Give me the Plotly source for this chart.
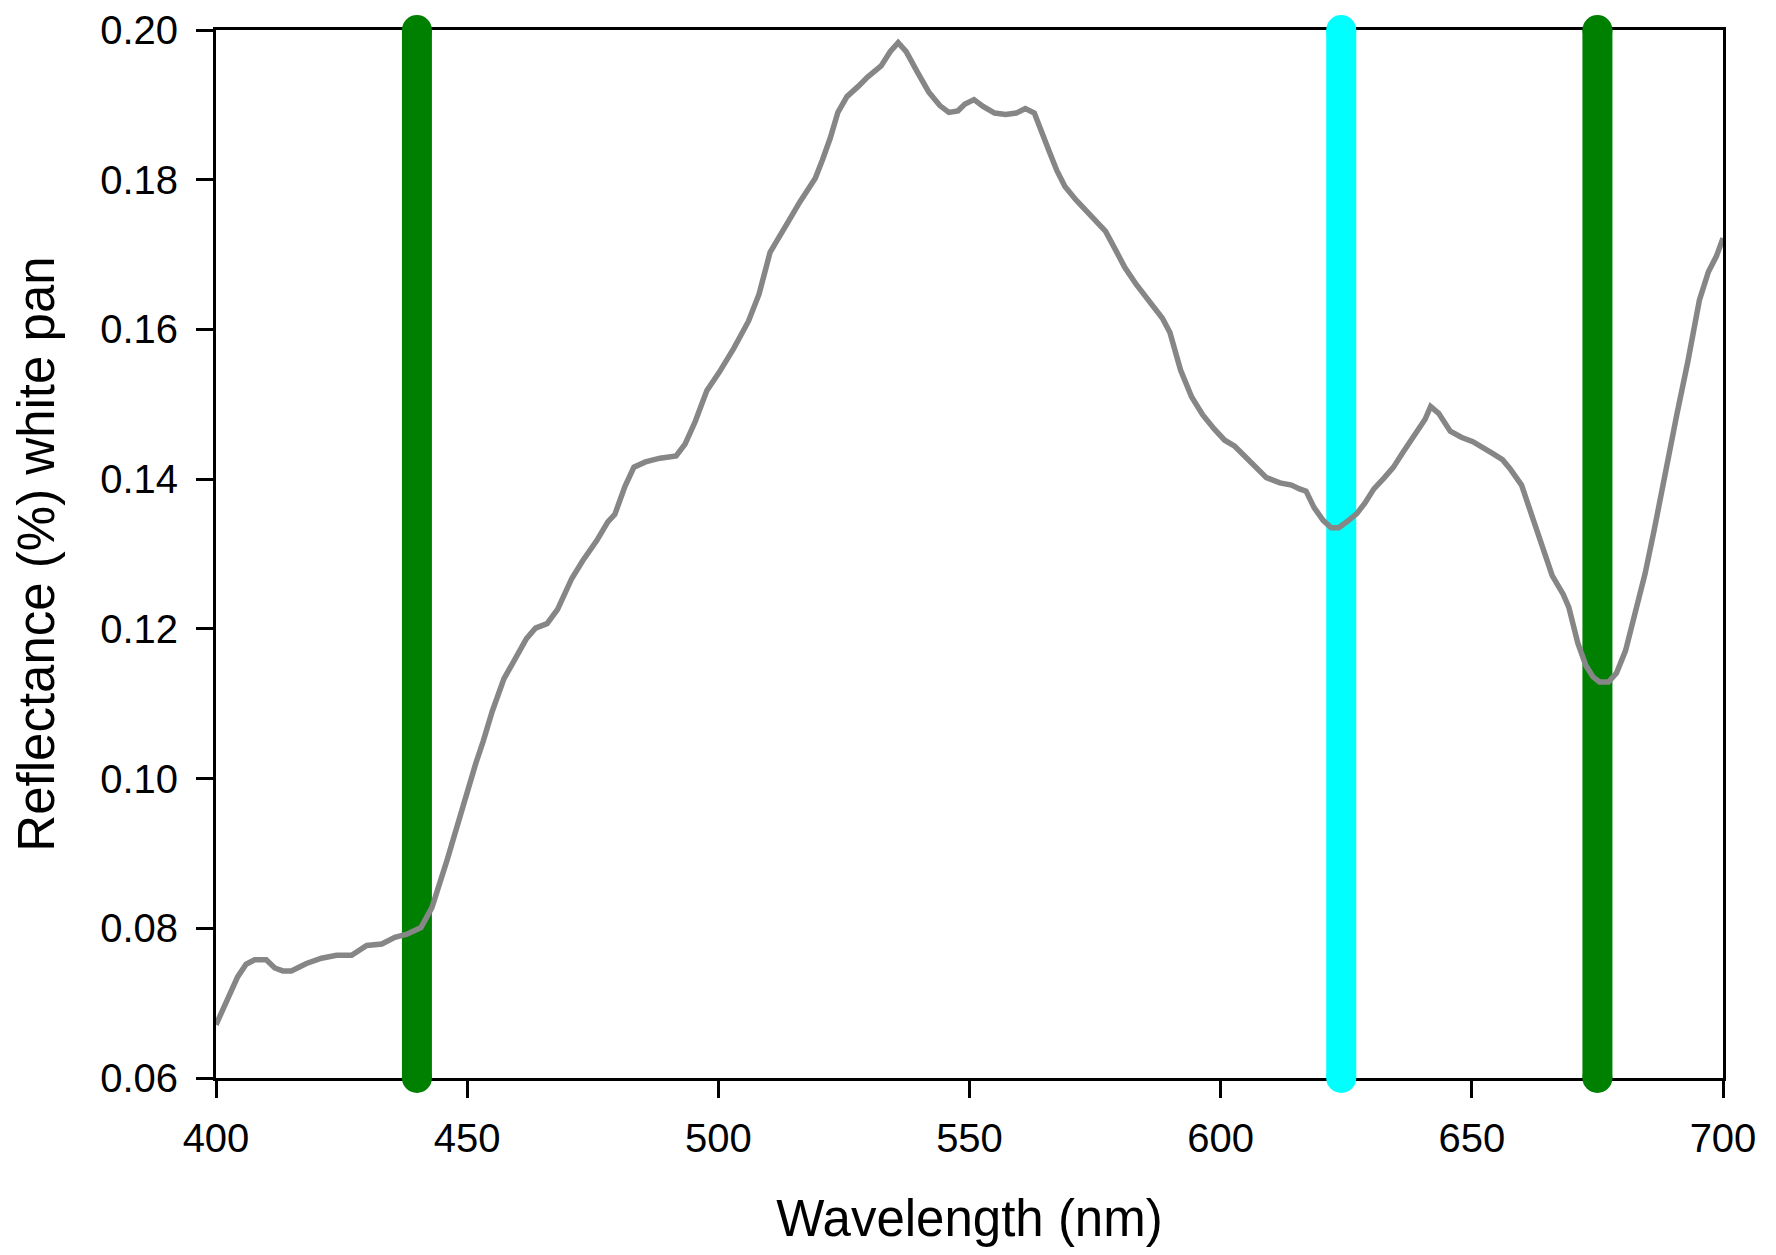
import plotly.graph_objects as go

wavelength = [400, 402, 404.3, 406, 407.7, 410, 411.7, 413.3, 415, 418, 421, 424, 427, 430, 433, 435.6, 438,
              440.8, 443, 446, 449.4, 451.7, 453.2, 455, 457.3, 459.6, 461.8, 463.6, 465.9, 468, 470.8, 473,
              475.8, 478, 479.4, 481.4, 483.2, 485.5, 488.4, 491.6, 493.4, 495.4, 497.7, 500.2, 503.1, 506,
              508.1, 510.3, 511.7, 514.1, 516.2, 518, 519.3, 520.7, 522.3, 523.8, 525.6, 527.9, 529.7, 532.4,
              534.2, 535.8, 537.4, 539.6, 541.9, 544.1, 545.9, 547.7, 549.1, 550.9, 552.7, 555, 557.2, 559.3,
              561.1, 562.9, 564.4, 565.8, 567.4, 569, 571.2, 573.5, 575.3, 577.1, 579.1, 580.9, 583.2, 585.4,
              586.8, 588.4, 589.9, 592, 594.2, 596.4, 598.7, 600.8, 602.8, 605, 607.3, 609.1, 611.8, 614.1,
              615.7, 617, 618.6, 620.4, 622, 623.5, 625.3, 627.1, 628.7, 630.5, 632.6, 634.4, 636.2, 638.4,
              640.7, 641.8, 643.4, 645.7, 647.9, 650.2, 652.4, 654.2, 656.1, 657.6, 659.9, 661.9, 664.2, 666,
              668.2, 669.3, 671.1, 672.7, 674.1, 675.4, 677.2, 678.8, 680.6, 682.4, 684.5, 686.3, 688.5, 690.8,
              693, 695.3, 697.1, 698.7, 700]
reflectance = [0.0671, 0.0700, 0.0735, 0.0752, 0.0758, 0.0758, 0.0747, 0.0743, 0.0743, 0.0753, 0.0760, 0.0764,
               0.0764, 0.0777, 0.0779, 0.0788, 0.0792, 0.0801, 0.0828, 0.0891, 0.0970, 0.1020, 0.1050, 0.1090,
               0.1133, 0.1162, 0.1187, 0.1201, 0.1207, 0.1226, 0.1267, 0.1291, 0.1318, 0.1343, 0.1353, 0.1390,
               0.1416, 0.1423, 0.1428, 0.1431, 0.1447, 0.1477, 0.1518, 0.1543, 0.1575, 0.1611, 0.1647, 0.1703,
               0.1718, 0.1746, 0.1770, 0.1787, 0.1802, 0.1826, 0.1856, 0.1890, 0.1911, 0.1925, 0.1937, 0.1952,
               0.1971, 0.1983, 0.1971, 0.1944, 0.1917, 0.1899, 0.1890, 0.1892, 0.1901, 0.1907, 0.1898, 0.1889,
               0.1887, 0.1889, 0.1895, 0.1889, 0.1865, 0.1839, 0.1812, 0.1791, 0.1773, 0.1757, 0.1746, 0.1731,
               0.1706, 0.1683, 0.1660, 0.1641, 0.1626, 0.1615, 0.1596, 0.1546, 0.1510, 0.1486, 0.1467, 0.1452,
               0.1444, 0.1429, 0.1413, 0.1402, 0.1395, 0.1392, 0.1387, 0.1384, 0.1362, 0.1345, 0.1335, 0.1335,
               0.1344, 0.1354, 0.1368, 0.1387, 0.1402, 0.1416, 0.1435, 0.1458, 0.1480, 0.1497, 0.1488, 0.1464,
               0.1456, 0.1450, 0.1440, 0.1434, 0.1426, 0.1414, 0.1392, 0.1351, 0.1309, 0.1271, 0.1246, 0.1229,
               0.1181, 0.1151, 0.1136, 0.1129, 0.1129, 0.1141, 0.1171, 0.1219, 0.1274, 0.1332, 0.1410, 0.1486,
               0.1557, 0.1639, 0.1677, 0.1698, 0.1722]

band_positions = [440, 624, 675]
band_colors = ["#008000", "#00ffff", "#008000"]
y_range = [0.06, 0.20]
x_ticks = [400, 450, 500, 550, 600, 650, 700]
y_ticks = [0.06, 0.08, 0.10, 0.12, 0.14, 0.16, 0.18, 0.20]

fig = go.Figure()
for pos, col in zip(band_positions, band_colors):
    fig.add_trace(go.Scatter(
        x=[pos, pos], y=y_range, mode="lines+markers",
        line=dict(color=col, width=30),
        marker=dict(color=col, size=30, line=dict(width=0)),
        cliponaxis=False, showlegend=False, hoverinfo="skip"))

fig.add_trace(go.Scatter(x=wavelength, y=reflectance, mode="lines",
                         line=dict(color="#868686", width=5.5), showlegend=False,
                         cliponaxis=False))

font_family = "Liberation Sans, Arial, sans-serif"
axis_common = dict(showline=True, linecolor="black", linewidth=3, mirror=True,
                   ticks="outside", ticklen=17, tickwidth=3, tickcolor="black",
                   showgrid=False, zeroline=False, layer="below traces", automargin=False,
                   ticklabeloverflow="allow",
                   tickfont=dict(family=font_family, size=40, color="black"))

# page body has an 8px default margin; size the figure so the plot area lands where the reference has it
fig.update_layout(
    width=1760, height=1239,
    margin=dict(l=208, r=45, t=22, b=169),
    paper_bgcolor="white", plot_bgcolor="white",
    font=dict(family=font_family, color="black"),
    xaxis=dict(range=[400, 700], tickvals=x_ticks, ticktext=[str(v) for v in x_ticks],
               title=dict(text="Wavelength (nm)", font=dict(size=51, family=font_family), standoff=50),
               ticklabelstandoff=6,
               **axis_common),
    yaxis=dict(range=y_range, tickvals=y_ticks, ticktext=["%.2f" % v for v in y_ticks],
               title=dict(text="Reflectance (%) white pan", font=dict(size=51, family=font_family), standoff=32),
               ticklabelstandoff=10,
               **axis_common),
)

fig.write_html("out.html")
